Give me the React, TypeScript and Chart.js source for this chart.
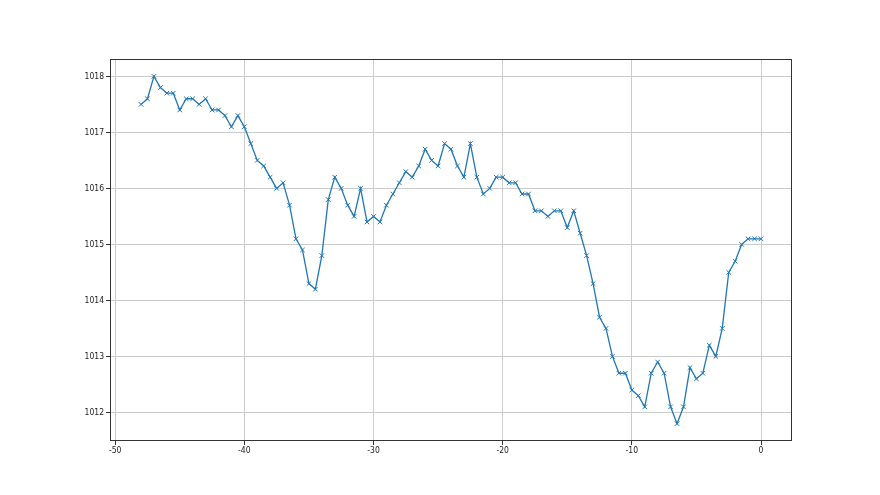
import React, { useEffect, useRef } from "react";
import { Chart, registerables } from "chart.js";

Chart.register(...registerables);

const xValues: number[] = [
  -48, -47.5, -47, -46.5, -46, -45.5, -45, -44.5, -44, -43.5, -43, -42.5, -42, -41.5, -41, -40.5,
  -40, -39.5, -39, -38.5, -38, -37.5, -37, -36.5, -36, -35.5, -35, -34.5, -34, -33.5, -33, -32.5,
  -32, -31.5, -31, -30.5, -30, -29.5, -29, -28.5, -28, -27.5, -27, -26.5, -26, -25.5, -25, -24.5,
  -24, -23.5, -23, -22.5, -22, -21.5, -21, -20.5, -20, -19.5, -19, -18.5, -18, -17.5, -17, -16.5,
  -16, -15.5, -15, -14.5, -14, -13.5, -13, -12.5, -12, -11.5, -11, -10.5, -10, -9.5, -9, -8.5,
  -8, -7.5, -7, -6.5, -6, -5.5, -5, -4.5, -4, -3.5, -3, -2.5, -2, -1.5, -1, -0.5, 0,
];

const pressure: number[] = [
  1017.5, 1017.6, 1018.0, 1017.8, 1017.7, 1017.7, 1017.4, 1017.6, 1017.6, 1017.5, 1017.6, 1017.4, 1017.4, 1017.3, 1017.1, 1017.3,
  1017.1, 1016.8, 1016.5, 1016.4, 1016.2, 1016.0, 1016.1, 1015.7, 1015.1, 1014.9, 1014.3, 1014.2, 1014.8, 1015.8, 1016.2, 1016.0,
  1015.7, 1015.5, 1016.0, 1015.4, 1015.5, 1015.4, 1015.7, 1015.9, 1016.1, 1016.3, 1016.2, 1016.4, 1016.7, 1016.5, 1016.4, 1016.8,
  1016.7, 1016.4, 1016.2, 1016.8, 1016.2, 1015.9, 1016.0, 1016.2, 1016.2, 1016.1, 1016.1, 1015.9, 1015.9, 1015.6, 1015.6, 1015.5,
  1015.6, 1015.6, 1015.3, 1015.6, 1015.2, 1014.8, 1014.3, 1013.7, 1013.5, 1013.0, 1012.7, 1012.7, 1012.4, 1012.3, 1012.1, 1012.7,
  1012.9, 1012.7, 1012.1, 1011.8, 1012.1, 1012.8, 1012.6, 1012.7, 1013.2, 1013.0, 1013.5, 1014.5, 1014.7, 1015.0, 1015.1, 1015.1, 1015.1,
];

const xTicks: number[] = [-50, -40, -30, -20, -10, 0];
const yTicks: number[] = [1012, 1013, 1014, 1015, 1016, 1017, 1018];

const frame = {
  id: "frame",
  afterDraw(chart: any) {
    const { ctx, chartArea: a } = chart;
    ctx.save();
    ctx.strokeStyle = "#333";
    ctx.lineWidth = 1;
    ctx.strokeRect(a.left + 0.5, a.top + 0.5, a.right - a.left - 1, a.bottom - a.top - 1);
    ctx.restore();
  },
};

const tickFont = { family: "DejaVu Sans Condensed, DejaVu Sans", size: 8.5 };

export default function App() {
  const ref = useRef<HTMLCanvasElement | null>(null);
  useEffect(() => {
    if (!ref.current) return;
    const xmin = Math.min(...xValues), xmax = Math.max(...xValues);
    const ymin = Math.min(...pressure), ymax = Math.max(...pressure);
    const xm = (xmax - xmin) * 0.05, ym = (ymax - ymin) * 0.05;
    const chart = new Chart(ref.current, {
      type: "line",
      data: {
        datasets: [
          {
            data: xValues.map((x, i) => ({ x, y: pressure[i] })),
            borderColor: "#1f77b4",
            backgroundColor: "#1f77b4",
            borderWidth: 1.3,
            pointStyle: "crossRot",
            pointRadius: 3.2,
            pointBorderWidth: 1,
            pointBorderColor: "#1f77b4",
            tension: 0,
            fill: false,
          },
        ],
      },
      options: {
        animation: false,
        responsive: false,
        layout: { padding: { left: 0, top: 59, right: 88, bottom: 0 } },
        plugins: { legend: { display: false }, tooltip: { enabled: false } },
        scales: {
          x: {
            type: "linear",
            min: xmin - xm,
            max: xmax + xm,
            afterBuildTicks: (s: any) => {
              s.ticks = xTicks.map((v) => ({ value: v }));
            },
            afterFit: (s: any) => {
              s.height = 54;
            },
            grid: { color: "#cccccc", lineWidth: 1, tickLength: 4, tickColor: "#333" },
            border: { display: false },
            ticks: {
              color: "#222",
              font: tickFont,
              padding: 1,
              maxRotation: 0,
              callback: (v: any) => String(v),
            },
          },
          y: {
            type: "linear",
            min: ymin - ym,
            max: ymax + ym,
            afterBuildTicks: (s: any) => {
              s.ticks = yTicks.map((v) => ({ value: v }));
            },
            afterFit: (s: any) => {
              s.width = 110;
            },
            grid: { color: "#cccccc", lineWidth: 1, tickLength: 4, tickColor: "#333" },
            border: { display: false },
            ticks: {
              color: "#222",
              font: tickFont,
              padding: 2,
              callback: (v: any) => String(v),
            },
          },
        },
      },
      plugins: [frame],
    });
    return () => chart.destroy();
  }, []);
  return (
    <div style={{ position: "fixed", left: 0, top: 0, width: 880, height: 495, background: "#fff" }}>
      <canvas ref={ref} width={880} height={495} style={{ width: 880, height: 495 }} />
    </div>
  );
}
